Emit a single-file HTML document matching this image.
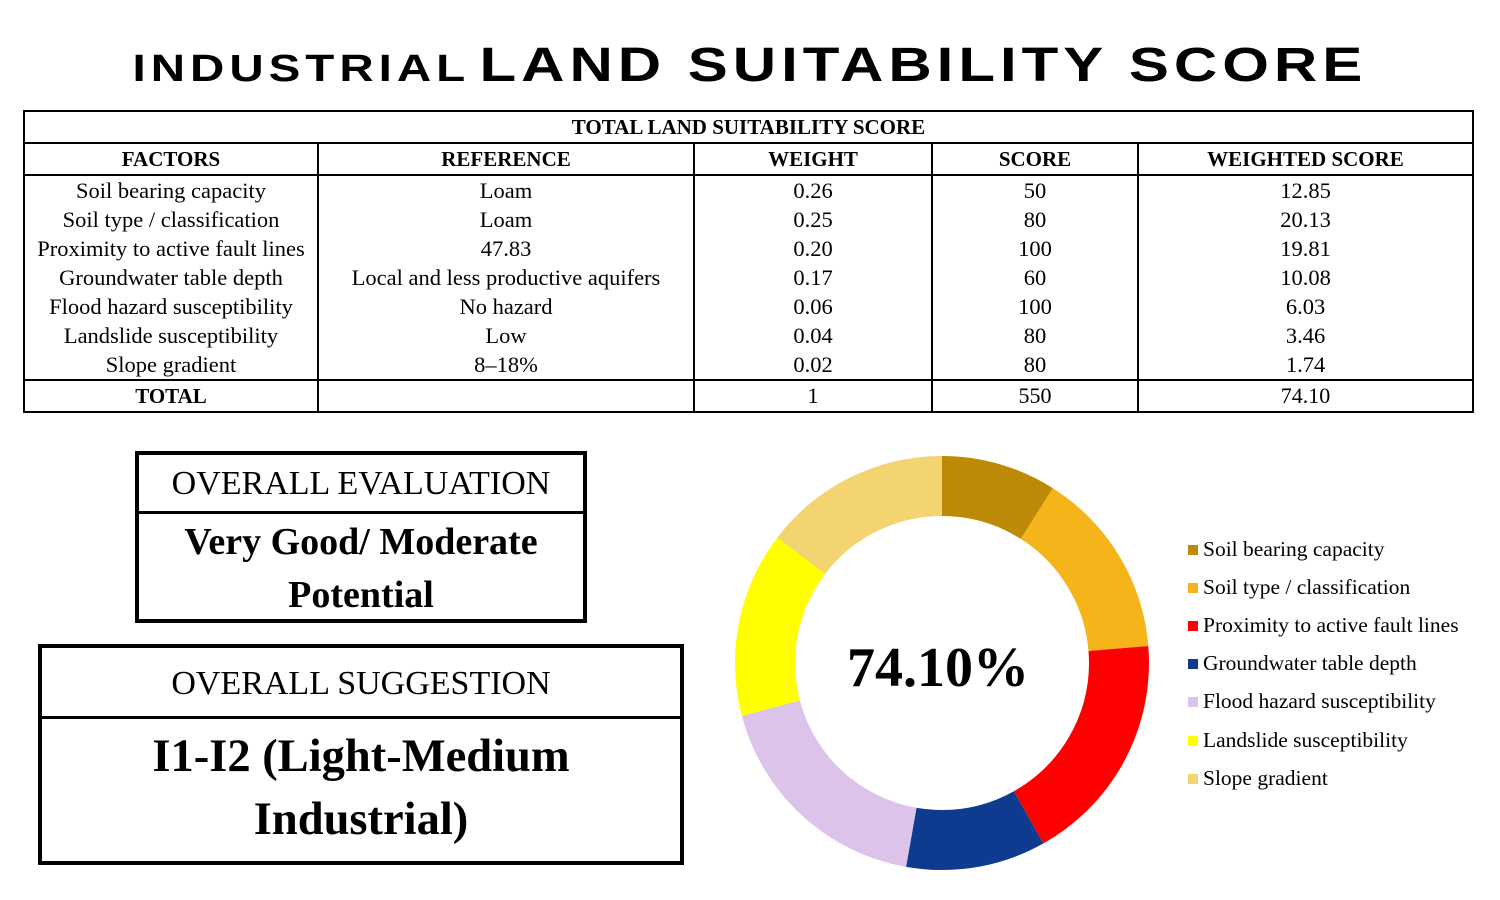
<!DOCTYPE html>
<html><head><meta charset="utf-8">
<style>
body{margin:0;width:1500px;height:900px;background:#fff;position:relative;overflow:hidden;font-family:"Liberation Serif",serif;}
.title{position:absolute;left:0;top:38px;width:1500px;text-align:center;font-family:"Liberation Sans",sans-serif;font-weight:bold;white-space:nowrap;}
.title span{display:inline-block;transform:scaleX(1.25);transform-origin:center;letter-spacing:3px;}
table{position:absolute;left:23px;top:110px;width:1451px;border-collapse:collapse;font-size:22.5px;}
td{border-left:2px solid #000;border-right:2px solid #000;text-align:center;padding:0;height:29px;line-height:29px;}
tr.b td{border-top:2px solid #000;border-bottom:2px solid #000;font-weight:bold;height:28px;line-height:30px;font-size:21px;}
.box{position:absolute;border:4px solid #000;box-sizing:border-box;text-align:center;}
.hd{border-bottom:3px solid #000;font-size:34px;}
.leg{position:absolute;left:1188px;font-size:21.5px;line-height:20px;}
.leg i{display:inline-block;width:10px;height:10px;margin-right:5px;vertical-align:1px;}
</style></head><body>
<div class="title"><span><span style="font-size:38px;transform:none;letter-spacing:4px">INDUSTRIAL</span> <span style="font-size:48px;transform:none;letter-spacing:4px">LAND SUITABILITY SCORE</span></span></div>
<table>
<tr class="b"><td colspan="5">TOTAL LAND SUITABILITY SCORE</td></tr>
<tr class="b"><td style="width:292px">FACTORS</td><td style="width:374px">REFERENCE</td><td style="width:236px">WEIGHT</td><td style="width:204px">SCORE</td><td>WEIGHTED SCORE</td></tr>
<tr><td>Soil bearing capacity</td><td>Loam</td><td>0.26</td><td>50</td><td>12.85</td></tr>
<tr><td>Soil type / classification</td><td>Loam</td><td>0.25</td><td>80</td><td>20.13</td></tr>
<tr><td>Proximity to active fault lines</td><td>47.83</td><td>0.20</td><td>100</td><td>19.81</td></tr>
<tr><td>Groundwater table depth</td><td>Local and less productive aquifers</td><td>0.17</td><td>60</td><td>10.08</td></tr>
<tr><td>Flood hazard susceptibility</td><td>No hazard</td><td>0.06</td><td>100</td><td>6.03</td></tr>
<tr><td>Landslide susceptibility</td><td>Low</td><td>0.04</td><td>80</td><td>3.46</td></tr>
<tr><td>Slope gradient</td><td>8–18%</td><td>0.02</td><td>80</td><td>1.74</td></tr>
<tr class="b"><td>TOTAL</td><td></td><td style="font-weight:normal;font-size:22px">1</td><td style="font-weight:normal;font-size:22px">550</td><td style="font-weight:normal;font-size:22px">74.10</td></tr>
</table>

<div class="box" style="left:135px;top:451px;width:452px;height:172px;">
<div class="hd" style="height:56px;line-height:58px;">OVERALL EVALUATION</div>
<div style="font-weight:bold;font-size:38px;line-height:53px;padding-top:2px;">Very Good/ Moderate<br>Potential</div>
</div>
<div class="box" style="left:38px;top:644px;width:646px;height:221px;">
<div class="hd" style="height:68px;line-height:72px;">OVERALL SUGGESTION</div>
<div style="font-weight:bold;font-size:46.5px;line-height:63px;padding-top:6px;">I1-I2 (Light-Medium<br>Industrial)</div>
</div>

<svg style="position:absolute;left:0;top:0" width="1500" height="900">
<g transform="rotate(-90 942 663)" fill="none" stroke-width="60">
<circle cx="942" cy="663" r="177" pathLength="360" stroke="#BC8A06" stroke-dasharray="32.4 400" stroke-dashoffset="0"/>
<circle cx="942" cy="663" r="177" pathLength="360" stroke="#F4B41A" stroke-dasharray="52.9 400" stroke-dashoffset="-32.4"/>
<circle cx="942" cy="663" r="177" pathLength="360" stroke="#FF0000" stroke-dasharray="65.4 400" stroke-dashoffset="-85.3"/>
<circle cx="942" cy="663" r="177" pathLength="360" stroke="#0E3A8F" stroke-dasharray="39.3 400" stroke-dashoffset="-150.7"/>
<circle cx="942" cy="663" r="177" pathLength="360" stroke="#DBC3EA" stroke-dasharray="65.2 400" stroke-dashoffset="-190"/>
<circle cx="942" cy="663" r="177" pathLength="360" stroke="#FFFF00" stroke-dasharray="52.1 400" stroke-dashoffset="-255.2"/>
<circle cx="942" cy="663" r="177" pathLength="360" stroke="#F4D470" stroke-dasharray="52.7 400" stroke-dashoffset="-307.3"/>
</g>
<text x="938" y="686" text-anchor="middle" font-family="Liberation Serif" font-weight="bold" font-size="56">74.10%</text>
</svg>

<div class="leg" style="top:539px"><i style="background:#BC8A06"></i>Soil bearing capacity</div>
<div class="leg" style="top:577px"><i style="background:#F4B41A"></i>Soil type / classification</div>
<div class="leg" style="top:615px"><i style="background:#FF0000"></i>Proximity to active fault lines</div>
<div class="leg" style="top:653px"><i style="background:#0E3A8F"></i>Groundwater table depth</div>
<div class="leg" style="top:691px"><i style="background:#DBC3EA"></i>Flood hazard susceptibility</div>
<div class="leg" style="top:730px"><i style="background:#FFFF00"></i>Landslide susceptibility</div>
<div class="leg" style="top:768px"><i style="background:#F4D470"></i>Slope gradient</div>
</body></html>
